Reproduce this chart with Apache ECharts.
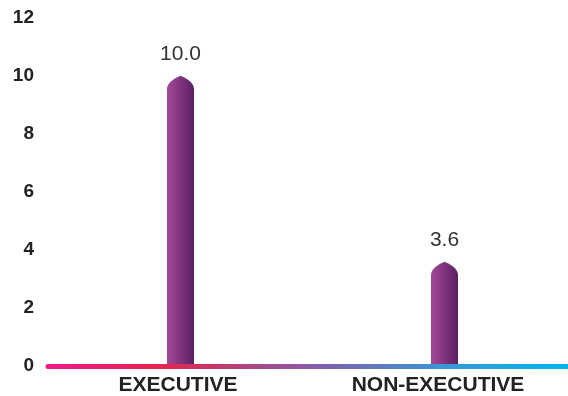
<!DOCTYPE html>
<html>
<head>
<meta charset="utf-8">
<script src="https://cdn.jsdelivr.net/npm/echarts@6/dist/echarts.min.js"></script>
<style>
  html, body { margin: 0; padding: 0; background: #fff; }
  #main { width: 568px; height: 396px; }
</style>
</head>
<body>
<div id="main"></div>
<script>
// data
var categories = ['EXECUTIVE', 'NON-EXECUTIVE'];
var values = [10.0, 3.6];
var yTicks = [0, 2, 4, 6, 8, 10, 12];

var myChart = echarts.init(document.getElementById('main'));

var barGrad = new echarts.graphic.LinearGradient(0, 0, 1, 0, [
  { offset: 0, color: '#a4489a' },
  { offset: 1, color: '#5a2062' }
]);

// 尖顶柱子
function renderBar(params, api) {
  var base = api.coord([api.value(0), 0]);
  var top = api.coord([api.value(0), api.value(1)]);
  var w = 27, tip = 13;
  var x0 = top[0] - w / 2, x1 = top[0] + w / 2, cx = top[0];
  var yb = base[1] - 2.5, yt = top[1];
  var path = 'M' + x0 + ',' + yb +
    ' L' + x0 + ',' + (yt + tip) +
    ' C' + x0 + ',' + (yt + tip * 0.55) + ' ' + (cx - w * 0.2) + ',' + (yt + 2) + ' ' + cx + ',' + yt +
    ' C' + (cx + w * 0.2) + ',' + (yt + 2) + ' ' + x1 + ',' + (yt + tip * 0.55) + ' ' + x1 + ',' + (yt + tip) +
    ' L' + x1 + ',' + yb + ' Z';
  return {
    type: 'group',
    children: [
      {
        type: 'path',
        shape: { pathData: path },
        style: { fill: barGrad }
      },
      {
        type: 'text',
        x: cx,
        y: yt - 11,
        style: {
          text: api.value(1).toFixed(1),
          fill: '#333',
          font: '21px "Liberation Sans", Arial, sans-serif',
          align: 'center',
          verticalAlign: 'bottom'
        }
      }
    ]
  };
}

var option = {
  animation: false,
  grid: [
    { left: 48, right: 0, top: 17.5, bottom: 29.5 },
    { left: 48.5, right: -8.5, top: 17.5, bottom: 29.5, outerBoundsMode: 'none' }
  ],
  xAxis: [
    {
      type: 'category',
      gridIndex: 0,
      data: categories,
      axisTick: { show: false },
      axisLine: {
        lineStyle: {
          width: 5,
          color: new echarts.graphic.LinearGradient(0, 0, 1, 0, [
            { offset: 0, color: '#ee1a8e' },
            { offset: 0.22, color: '#e4264c' },
            { offset: 0.5, color: '#8a5aa6' },
            { offset: 0.75, color: '#3c94d6' },
            { offset: 1, color: '#00b8ec' }
          ])
        }
      },
      axisLabel: {
        margin: 9,
        color: '#222',
        fontWeight: 'bold',
        fontSize: 21,
        fontFamily: '"Liberation Sans", Arial, sans-serif'
      }
    },
    {
      type: 'category',
      gridIndex: 1,
      data: categories,
      show: false
    }
  ],
  yAxis: [
    {
      type: 'value',
      gridIndex: 0,
      min: 0,
      max: 12,
      interval: 2,
      splitLine: { show: false },
      axisLine: { show: false },
      axisTick: { show: false },
      axisLabel: {
        margin: 14,
        color: '#222',
        fontWeight: 'bold',
        fontSize: 19,
        fontFamily: '"Liberation Sans", Arial, sans-serif',
        formatter: function (v) { return yTicks.indexOf(v) >= 0 ? String(v) : ''; }
      }
    },
    {
      type: 'value',
      gridIndex: 1,
      min: 0,
      max: 12,
      interval: 2,
      show: false
    }
  ],
  series: [
    {
      type: 'custom',
      xAxisIndex: 1,
      yAxisIndex: 1,
      z: 3,
      renderItem: renderBar,
      encode: { x: 0, y: 1 },
      data: categories.map(function (c, i) { return [i, values[i]]; })
    }
  ]
};

myChart.setOption(option);
</script>
</body>
</html>
